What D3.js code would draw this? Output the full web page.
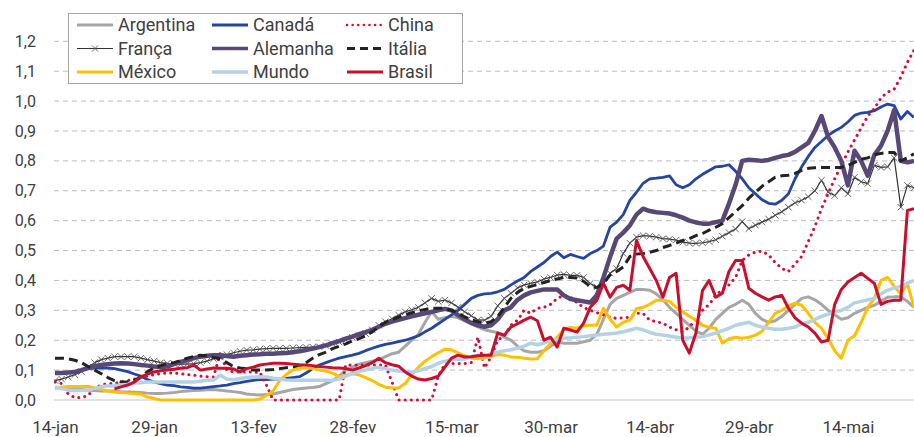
<!DOCTYPE html>
<html>
<head>
<meta charset="utf-8">
<script src="https://cdn.jsdelivr.net/npm/d3@7"></script>
<style>
  body { margin: 0; background: #fff; }
  svg { display: block; font-family: Roboto, "Noto Sans", sans-serif; }
</style>
</head>
<body>
<svg id="chart" width="914" height="437"></svg>
<script>
// x-axis tick labels, every 15 days starting at index 0
const tickLabels = ["14-jan", "29-jan", "13-fev", "28-fev", "15-mar", "30-mar", "14-abr", "29-abr", "14-mai"];
const yTicks = [0, 0.1, 0.2, 0.3, 0.4, 0.5, 0.6, 0.7, 0.8, 0.9, 1.0, 1.1, 1.2];

const argentina = [
  0.040,0.040,0.038,0.036,0.035,0.033,0.032,0.030,0.030,0.030,
  0.028,0.027,0.026,0.025,0.023,0.022,0.022,0.023,0.025,0.028,
  0.030,0.032,0.033,0.034,0.035,0.033,0.030,0.028,0.025,0.020,
  0.018,0.017,0.018,0.020,0.025,0.030,0.035,0.038,0.040,0.042,
  0.045,0.055,0.065,0.080,0.100,0.110,0.120,0.125,0.130,0.135,
  0.145,0.155,0.160,0.180,0.200,0.220,0.260,0.295,0.270,0.275,
  0.280,0.275,0.265,0.255,0.245,0.235,0.230,0.225,0.210,0.200,
  0.180,0.165,0.160,0.160,0.165,0.180,0.195,0.190,0.190,0.190,
  0.195,0.200,0.220,0.270,0.320,0.340,0.350,0.360,0.370,0.370,
  0.367,0.355,0.335,0.310,0.290,0.270,0.250,0.230,0.220,0.240,
  0.270,0.290,0.310,0.320,0.334,0.320,0.290,0.270,0.260,0.265,
  0.280,0.300,0.320,0.340,0.345,0.335,0.320,0.300,0.285,0.270,
  0.275,0.290,0.300,0.310,0.317,0.330,0.344,0.345,0.345,0.330,0.310
];
const canada = [
  null,null,null,null,null,0.105,0.107,0.107,0.107,0.105,
  0.100,0.095,0.087,0.080,0.068,0.060,0.055,0.050,0.048,0.044,
  0.042,0.040,0.040,0.042,0.045,0.047,0.050,0.055,0.058,0.062,
  0.066,0.068,0.068,0.070,0.070,0.072,0.075,0.078,0.090,0.105,
  0.117,0.125,0.133,0.140,0.145,0.150,0.156,0.165,0.173,0.180,
  0.186,0.190,0.195,0.200,0.207,0.215,0.228,0.240,0.255,0.270,
  0.285,0.300,0.320,0.340,0.350,0.355,0.357,0.362,0.370,0.385,
  0.398,0.410,0.430,0.445,0.460,0.480,0.495,0.476,0.487,0.480,
  0.474,0.490,0.500,0.515,0.578,0.595,0.620,0.668,0.695,0.725,
  0.740,0.742,0.745,0.750,0.720,0.710,0.720,0.740,0.755,0.768,
  0.780,0.782,0.787,0.765,0.740,0.710,0.690,0.670,0.658,0.655,
  0.668,0.690,0.740,0.780,0.815,0.845,0.865,0.885,0.900,0.912,
  0.930,0.952,0.960,0.962,0.968,0.980,0.990,0.985,0.940,0.965,0.945
];
const china = [
  0.060,0.055,0.020,0.008,0.008,0.015,0.040,0.050,0.055,0.055,
  0.060,0.065,0.070,0.075,0.080,0.085,0.088,0.090,0.090,0.088,
  0.085,0.083,0.080,0.078,0.077,0.157,0.100,0.094,0.094,0.094,
  0.093,0.093,0.050,0,0,0,0,0,0,0,
  0,0,0,0,0.117,0.117,0.117,0.117,0.117,0.117,
  0.117,0.060,0,0,0,0,0,0,0.080,0.120,
  0.122,0.122,0.122,0.125,0.210,0.107,0.145,0.200,0.215,0.250,
  0.267,0.300,0.290,0.307,0.310,0.320,0.340,0.350,0.345,0.325,
  0.310,0.300,0.292,0.285,0.277,0.273,0.275,0.277,0.290,0.290,
  0.267,0.262,0.257,0.244,0.235,0.228,0.244,0.270,0.300,0.320,
  0.350,0.370,0.385,0.410,0.467,0.485,0.495,0.498,0.485,0.460,
  0.440,0.430,0.455,0.480,0.530,0.580,0.640,0.690,0.740,0.785,
  0.830,0.870,0.910,0.950,0.975,1.010,1.030,1.040,1.080,1.130,1.170
];
const franca = [
  0.065,0.070,0.077,0.085,0.095,0.110,0.125,0.135,0.140,0.145,
  0.145,0.145,0.145,0.140,0.135,0.130,0.125,0.123,0.122,0.120,
  0.120,0.122,0.125,0.130,0.138,0.145,0.152,0.158,0.163,0.167,
  0.168,0.170,0.172,0.173,0.173,0.173,0.174,0.175,0.176,0.177,
  0.178,0.182,0.188,0.194,0.200,0.210,0.215,0.222,0.235,0.250,
  0.262,0.272,0.284,0.295,0.302,0.310,0.325,0.340,0.330,0.334,
  0.325,0.310,0.295,0.282,0.268,0.267,0.280,0.315,0.340,0.357,
  0.375,0.385,0.390,0.395,0.405,0.410,0.418,0.420,0.417,0.417,
  0.410,0.390,0.378,0.390,0.424,0.440,0.490,0.525,0.545,0.550,
  0.548,0.545,0.540,0.538,0.535,0.528,0.525,0.524,0.526,0.530,
  0.536,0.548,0.560,0.572,0.597,0.573,0.585,0.595,0.605,0.618,
  0.630,0.645,0.660,0.668,0.680,0.700,0.735,0.695,0.684,0.710,
  0.690,0.745,0.730,0.724,0.785,0.778,0.780,0.810,0.645,0.718,0.710
];
const alemanha = [
  0.090,0.090,0.092,0.094,0.100,0.107,0.113,0.117,0.120,0.122,
  0.123,0.122,0.120,0.117,0.115,0.112,0.110,0.112,0.120,0.127,
  0.133,0.140,0.145,0.148,0.150,0.150,0.147,0.145,0.148,0.150,
  0.152,0.153,0.155,0.155,0.156,0.157,0.160,0.163,0.167,0.172,
  0.177,0.183,0.190,0.197,0.205,0.212,0.220,0.227,0.235,0.245,
  0.255,0.262,0.268,0.274,0.280,0.285,0.290,0.295,0.300,0.305,
  0.300,0.284,0.270,0.258,0.250,0.245,0.250,0.270,0.300,0.310,
  0.335,0.350,0.360,0.365,0.370,0.370,0.370,0.350,0.338,0.334,
  0.330,0.326,0.350,0.410,0.478,0.540,0.560,0.584,0.620,0.640,
  0.632,0.628,0.626,0.624,0.618,0.610,0.600,0.594,0.590,0.590,
  0.595,0.600,0.657,0.720,0.800,0.804,0.802,0.800,0.803,0.810,
  0.816,0.820,0.830,0.845,0.860,0.900,0.950,0.880,0.845,0.800,
  0.718,0.834,0.800,0.750,0.820,0.850,0.900,0.970,0.800,0.795,0.800
];
const italia = [
  0.140,0.140,0.138,0.133,0.125,0.112,0.100,0.088,0.075,0.065,
  0.060,0.060,0.065,0.078,0.095,0.107,0.115,0.122,0.125,0.132,
  0.140,0.145,0.150,0.148,0.142,0.138,0.125,0.112,0.107,0.104,
  0.100,0.100,0.100,0.102,0.105,0.108,0.110,0.112,0.125,0.140,
  0.152,0.160,0.172,0.180,0.188,0.198,0.205,0.215,0.228,0.245,
  0.260,0.268,0.277,0.285,0.292,0.298,0.303,0.307,0.307,0.307,
  0.300,0.290,0.278,0.268,0.262,0.257,0.262,0.280,0.310,0.340,
  0.360,0.374,0.380,0.386,0.393,0.400,0.405,0.410,0.410,0.408,
  0.397,0.380,0.376,0.390,0.418,0.430,0.445,0.480,0.488,0.490,
  0.494,0.500,0.510,0.517,0.525,0.534,0.540,0.550,0.557,0.568,
  0.578,0.590,0.610,0.630,0.650,0.675,0.695,0.715,0.730,0.745,
  0.750,0.752,0.758,0.768,0.775,0.777,0.778,0.778,0.778,0.778,
  0.785,0.795,0.805,0.810,0.820,0.825,0.828,0.828,0.800,0.810,0.824
];
const mexico = [
  0.040,0.043,0.045,0.045,0.045,0.045,0.040,0.035,0.030,0.027,
  0.025,0.023,0.022,0.020,0.010,0.005,0,0,0,0,
  0,0,0,0,0,0,0,0,0,0,
  0,0.003,0.015,0.030,0.065,0.085,0.100,0.107,0.108,0.105,
  0.100,0.097,0.090,0.078,0.083,0.088,0.084,0.075,0.065,0.052,
  0.043,0.040,0.040,0.055,0.085,0.110,0.130,0.145,0.158,0.170,
  0.168,0.158,0.148,0.140,0.138,0.140,0.146,0.152,0.150,0.144,
  0.143,0.140,0.137,0.138,0.165,0.190,0.210,0.235,0.243,0.240,
  0.248,0.250,0.250,0.307,0.270,0.244,0.260,0.267,0.305,0.310,
  0.320,0.334,0.334,0.330,0.310,0.295,0.280,0.268,0.250,0.243,
  0.240,0.190,0.205,0.210,0.207,0.210,0.217,0.230,0.260,0.290,
  0.300,0.315,0.324,0.317,0.290,0.260,0.240,0.205,0.165,0.140,
  0.200,0.215,0.260,0.310,0.340,0.400,0.410,0.380,0.355,0.390,0.310
];
const mundo = [
  0.044,0.038,0.033,0.032,0.032,0.033,0.038,0.045,0.047,0.048,
  0.050,0.053,0.057,0.058,0.060,0.060,0.060,0.060,0.060,0.060,
  0.060,0.060,0.063,0.066,0.067,0.083,0.070,0.068,0.072,0.075,
  0.077,0.077,0.077,0.073,0.070,0.067,0.066,0.066,0.066,0.066,
  0.066,0.066,0.066,0.070,0.080,0.088,0.095,0.100,0.106,0.110,
  0.105,0.100,0.097,0.095,0.094,0.098,0.105,0.112,0.123,0.130,
  0.134,0.136,0.137,0.145,0.150,0.145,0.155,0.160,0.165,0.168,
  0.173,0.180,0.190,0.185,0.190,0.200,0.203,0.207,0.208,0.210,
  0.212,0.215,0.217,0.220,0.222,0.224,0.228,0.234,0.240,0.235,
  0.226,0.220,0.217,0.214,0.210,0.207,0.208,0.210,0.212,0.218,
  0.224,0.232,0.240,0.250,0.255,0.260,0.250,0.244,0.240,0.237,
  0.237,0.240,0.244,0.255,0.260,0.270,0.280,0.287,0.294,0.300,
  0.310,0.325,0.330,0.335,0.340,0.355,0.367,0.375,0.380,0.390,0.400
];
const brasil = [
  null,null,null,null,null,null,null,null,null,0.037,
  0.044,0.050,0.060,0.077,0.087,0.094,0.098,0.100,0.103,0.106,
  0.108,0.117,0.100,0.104,0.107,0.106,0.106,0.104,0.094,0.105,
  0.110,0.117,0.120,0.123,0.123,0.122,0.120,0.118,0.117,0.115,
  0.112,0.110,0.108,0.107,0.105,0.100,0.107,0.115,0.125,0.140,
  0.125,0.118,0.113,0.094,0.080,0.070,0.067,0.072,0.080,0.110,
  0.140,0.150,0.144,0.145,0.148,0.150,0.150,0.224,0.217,0.244,
  0.255,0.267,0.277,0.265,0.200,0.210,0.177,0.240,0.234,0.227,
  0.257,0.310,0.334,0.390,0.344,0.377,0.384,0.367,0.534,0.480,
  0.440,0.400,0.344,0.410,0.424,0.200,0.157,0.224,0.367,0.400,
  0.344,0.357,0.430,0.467,0.467,0.374,0.357,0.345,0.334,0.345,
  0.350,0.307,0.275,0.257,0.244,0.224,0.194,0.200,0.320,0.370,
  0.395,0.410,0.424,0.407,0.390,0.320,0.330,0.334,0.334,0.634,0.640
];

const series = [
  { name: "Argentina", values: argentina, color: "#a6a6a6", width: 3 },
  { name: "Canadá", values: canada, color: "#2446a0", width: 2.8 },
  { name: "China", values: china, color: "#d0103a", width: 2.5, dots: true },
  { name: "França", values: franca, color: "#333333", width: 1.2, marker: true },
  { name: "Alemanha", values: alemanha, color: "#584878", width: 4.5 },
  { name: "Itália", values: italia, color: "#222222", width: 3, dash: "9,5" },
  { name: "México", values: mexico, color: "#ffc000", width: 3 },
  { name: "Mundo", values: mundo, color: "#b4d1e6", width: 3.5 },
  { name: "Brasil", values: brasil, color: "#c8102e", width: 3 }
];
// legend goes row by row, three per row
const legendOrder = ["Argentina", "Canadá", "China", "França", "Alemanha", "Itália", "México", "Mundo", "Brasil"];

const svg = d3.select("#chart");
const x = d3.scaleLinear().domain([0, 130]).range([55, 914]);
const y = d3.scaleLinear().domain([0, 1.2]).range([400, 41.3]);
const fmt = v => d3.format(".1f")(v).replace(".", ",");

// grid
svg.append("g")
  .selectAll("line")
  .data(yTicks.filter(d => d > 0))
  .join("line")
  .attr("x1", 54).attr("x2", 914)
  .attr("y1", d => y(d)).attr("y2", d => y(d))
  .attr("stroke", "#bdbdbd")
  .attr("stroke-width", 1)
  .attr("stroke-dasharray", "5,4");
svg.append("line")
  .attr("x1", 54).attr("x2", 914)
  .attr("y1", y(0)).attr("y2", y(0))
  .attr("stroke", "#d9d9d9").attr("stroke-width", 1.5);

// y axis
const yAxis = svg.append("g")
  .attr("transform", "translate(36,0)")
  .call(d3.axisLeft(y).tickValues(yTicks).tickFormat(fmt).tickSize(0).tickPadding(0));
yAxis.select(".domain").remove();
yAxis.selectAll("text")
  .attr("font-size", 16)
  .attr("font-family", "Roboto, sans-serif")
  .attr("fill", "#404040");

// x axis
const xAxis = svg.append("g")
  .attr("transform", "translate(0,418)")
  .call(d3.axisBottom(x)
    .tickValues(tickLabels.map((d, i) => i * 15))
    .tickFormat((d, i) => tickLabels[i])
    .tickSize(0).tickPadding(3));
xAxis.select(".domain").remove();
xAxis.selectAll("text")
  .attr("font-size", 17)
  .attr("font-family", "Roboto, sans-serif")
  .attr("fill", "#404040");

svg.append("clipPath").attr("id", "clip")
  .append("rect").attr("x", 54).attr("y", 0).attr("width", 860).attr("height", 405);

const line = d3.line()
  .defined(d => d != null)
  .x((d, i) => x(i))
  .y(d => y(d));

const plot = svg.append("g").attr("clip-path", "url(#clip)");

series.forEach(s => {
  const p = plot.append("path")
    .datum(s.values)
    .attr("fill", "none")
    .attr("stroke", s.color)
    .attr("stroke-width", s.width)
    .attr("stroke-linejoin", "round")
    .attr("d", line);
  if (s.dash) p.attr("stroke-dasharray", s.dash);
  if (s.dots) p.attr("stroke-dasharray", "0.1,6").attr("stroke-linecap", "round").attr("stroke-width", 3);
  if (s.marker) {
    const m = 3.2;
    plot.append("g")
      .selectAll("path")
      .data(s.values.map((v, i) => [i, v]).filter(d => d[1] != null))
      .join("path")
      .attr("d", d => {
        const cx = x(d[0]), cy = y(d[1]);
        return `M${cx - m},${cy - m}L${cx + m},${cy + m}M${cx - m},${cy + m}L${cx + m},${cy - m}`;
      })
      .attr("stroke", "#555")
      .attr("stroke-width", 0.9)
      .attr("fill", "none");
  }
});

// legend
const legend = svg.append("g");
legend.append("rect")
  .attr("x", 68.5).attr("y", 13.5).attr("width", 394).attr("height", 70)
  .attr("fill", "#fff").attr("stroke", "#a6a6a6").attr("stroke-width", 1);
const colX = [77, 212, 347];
const rowY = [25, 48.5, 72];
legendOrder.forEach((name, k) => {
  const s = series.find(d => d.name === name);
  const lx = colX[k % 3], ly = rowY[Math.floor(k / 3)];
  const sw = legend.append("line")
    .attr("x1", lx).attr("x2", lx + 36)
    .attr("y1", ly).attr("y2", ly)
    .attr("stroke", s.color)
    .attr("stroke-width", s.marker ? 1.2 : Math.min(s.width, 3.5));
  if (s.dash) sw.attr("stroke-dasharray", "8,5");
  if (s.dots) sw.attr("stroke-dasharray", "0.1,5.5").attr("stroke-linecap", "round").attr("stroke-width", 2.5);
  if (s.marker) {
    const cx = lx + 18, m = 3;
    legend.append("path")
      .attr("d", `M${cx - m},${ly - m}L${cx + m},${ly + m}M${cx - m},${ly + m}L${cx + m},${ly - m}`)
      .attr("stroke", "#555").attr("stroke-width", 0.9);
  }
  legend.append("text")
    .attr("x", lx + 41).attr("y", ly)
    .attr("dy", "0.35em")
    .attr("font-size", 18)
    .attr("fill", "#404040")
    .text(name);
});
</script>
</body>
</html>
